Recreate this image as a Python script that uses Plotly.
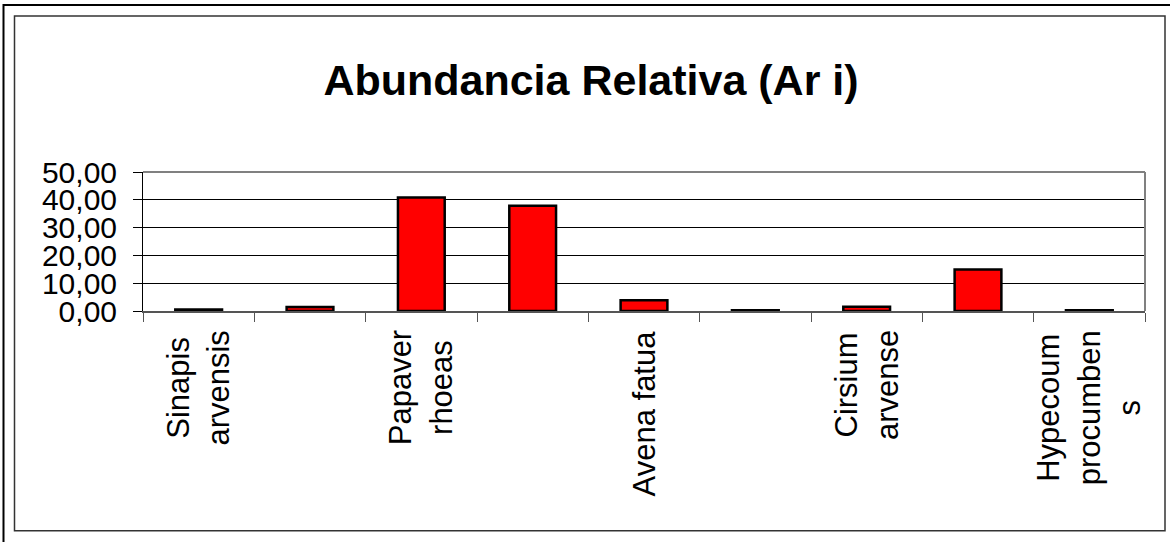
import plotly.graph_objects as go

# ---- data ----
species_labels = [
    "Sinapis<br>arvensis", "", "Papaver<br>rhoeas", "", "Avena fatua",
    "", "Cirsium<br>arvense", "", "Hypecoum<br>procumben<br>s",
]
abundance = [0.5, 1.4, 40.8, 37.9, 3.9, 0.3, 1.5, 14.9, 0.3]
y_ticks = [0, 10, 20, 30, 40, 50]

W, H = 1170, 542
L, R, T, B = 143, 1145, 172, 311.5

def px_x(p):
    return (p - L) / (R - L)

def px_y(p):
    return (B - p) / (B - T)

n = len(abundance)
pos = list(range(n))
FONT = "Liberation Sans, Arial, sans-serif"

fig = go.Figure(go.Bar(
    x=pos, y=abundance,
    marker=dict(color="#FF0000", line=dict(color="#000000", width=2.5)),
    width=0.42,
))

annotations = []
for i, lab in enumerate(species_labels):
    if lab:
        annotations.append(dict(
            x=i, xref="x", y=px_y(329), yref="paper",
            text=lab, textangle=-90, showarrow=False,
            xanchor="center", yanchor="top", align="center",
            font=dict(family=FONT, size=31, color="#000000"),
        ))

shapes = [
    # outer page frame (left & top visible)
    dict(type="rect", xref="paper", yref="paper",
         x0=px_x(3.5), x1=px_x(1200), y0=px_y(4.5), y1=px_y(580),
         line=dict(color="#000000", width=2), layer="above"),
    # inner chart frame
    dict(type="rect", xref="paper", yref="paper",
         x0=px_x(14.5), x1=px_x(1165), y0=px_y(15.5), y1=px_y(532),
         line=dict(color="#333333", width=1.5), layer="above"),
    # plot area border top & right (gray)
    dict(type="line", xref="paper", yref="paper", x0=0, x1=1, y0=1, y1=1,
         line=dict(color="#808080", width=2), layer="above"),
    dict(type="line", xref="paper", yref="paper", x0=1, x1=1, y0=0, y1=1,
         line=dict(color="#808080", width=2), layer="above"),
]

fig.update_layout(
    width=W, height=H,
    margin=dict(l=L, r=W - R, t=T, b=H - B),
    paper_bgcolor="white", plot_bgcolor="white",
    separators=",.",
    showlegend=False,
    title=dict(text="<b>Abundancia Relativa (Ar i)</b>",
               x=591 / W, xanchor="center", xref="container",
               y=1 - 80 / H, yanchor="middle", yref="container",
               font=dict(family=FONT, size=43, color="#000000")),
    xaxis=dict(range=[-0.5, n - 0.5], tickmode="array",
               tickvals=[i - 0.5 for i in range(n + 1)],
               ticktext=[""] * (n + 1), showticklabels=False,
               ticks="outside", ticklen=9, tickcolor="#555555", tickwidth=1,
               showline=True, linecolor="#555555", linewidth=1.5,
               showgrid=False, zeroline=False, fixedrange=True),
    yaxis=dict(range=[0, 50], tickmode="array", tickvals=y_ticks,
               tickformat=".2f", ticks="outside", ticklen=9,
               ticklabelstandoff=10,
               tickcolor="#000000", showline=True, linecolor="#000000",
               linewidth=1, showgrid=True, gridcolor="#000000", gridwidth=1,
               zeroline=False, fixedrange=True,
               tickfont=dict(family=FONT, size=30, color="#000000")),
    annotations=annotations,
    shapes=shapes,
)

fig.write_html(
    "out.html",
    config={"displayModeBar": False, "staticPlot": True},
    post_script="document.body.style.margin='0';document.body.style.padding='0';",
)
